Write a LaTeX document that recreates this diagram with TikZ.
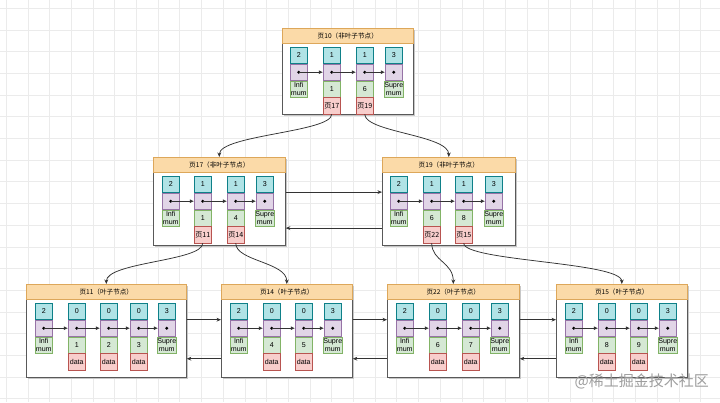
\documentclass[tikz,border=0pt]{standalone}
\usepackage{fontspec}
\setmainfont{Liberation Sans}
\newfontfamily\cjk{Noto Sans CJK SC}
\usetikzlibrary{arrows.meta,calc}
\definecolor{tealF}{HTML}{B0E3E6}
\definecolor{tealD}{HTML}{0E8088}
\definecolor{purpF}{HTML}{E1D5E7}
\definecolor{purpD}{HTML}{9673A6}
\definecolor{grnF}{HTML}{D5E8D4}
\definecolor{grnD}{HTML}{82B366}
\definecolor{redF}{HTML}{F8CECC}
\definecolor{redD}{HTML}{B85450}
\definecolor{headF}{HTML}{FBDAA8}
\definecolor{headD}{HTML}{DDA75A}
\definecolor{lineC}{HTML}{333333}
\definecolor{gridC}{HTML}{EBEBEB}
\tikzset{
  cellbase/.style={line width=0.5pt, minimum width=17pt, minimum height=16.3pt, inner sep=0pt,
    font=\fontsize{7.1}{7.6}\selectfont, align=center},
  tcell/.style={cellbase, fill=tealF, draw=tealD},
  pcell/.style={cellbase, fill=purpF, draw=purpD},
  gcell/.style={cellbase, fill=grnF, draw=grnD},
  rcell/.style={cellbase, fill=redF, draw=redD},
  pagebody/.style={draw=black!65, line width=0.8pt, fill=white, inner sep=0pt},
  pagehead/.style={draw=headD, fill=headF, line width=0.6pt, minimum height=15pt, inner sep=0pt,
    font=\fontsize{6.6}{7}\selectfont},
  link/.style={draw=lineC, line width=0.75pt, -{Stealth[length=4.5pt,width=3.8pt]}},
  inarrow/.style={draw=black!80, line width=0.8pt, -{Latex[length=4.2pt,width=4pt]}},
  gridline/.style={draw=gridC, line width=0.4pt},
}
\newcommand\pagebox[6]{%
  \fill[black!22] (#2+1.5,#3+1.5) rectangle ++(#4,#5);
  \node[pagebody, minimum width=#4pt, minimum height=#5pt, anchor=north west] (#1) at (#2,#3) {};
  \node[pagehead, minimum width=#4pt, anchor=north west] (#1h) at (#2,#3) {\cjk #6};
}
\newcommand\colA[5]{%
  \node[tcell, anchor=north west] (#1t) at (#2,#3) {#4};
  \node[pcell, anchor=north] (#1p) at (#1t.south) {};
  \node[gcell, anchor=north] (#1g) at (#1p.south) {#5};
  \fill[black] (#1p.center) circle (1.6pt);
}
\newcommand\colB[6]{%
  \colA{#1}{#2}{#3}{#4}{#5}%
  \node[rcell, anchor=north] (#1r) at (#1g.south) {#6};
}
\begin{document}
\begin{tikzpicture}[x=1pt,y=-1pt]
\useasboundingbox (0,0) rectangle (720,402);
\fill[white] (0,0) rectangle (720,402);
\foreach \i in {0,...,33} \draw[gridline] ({6+21.7*\i},0) -- ({6+21.7*\i},402);
\foreach \i in {0,...,18} \draw[gridline] (0,{8+21.7*\i}) -- (720,{8+21.7*\i});

% ---------- top level ----------
\pagebox{p10}{282}{28}{131}{86}{页10（非叶子节点）}
\colA{p10-1}{290}{47}{2}{Infi\\mum}
\colB{p10-2}{323}{47}{1}{1}{\cjk 页17}
\colB{p10-3}{356}{47}{1}{6}{\cjk 页19}
\colA{p10-4}{385}{47}{3}{Supre\\mum}
\draw[inarrow] (p10-1p.center) -- (p10-2p.west);
\draw[inarrow] (p10-2p.center) -- (p10-3p.west);
\draw[inarrow] (p10-3p.center) -- (p10-4p.west);

% ---------- middle level ----------
\pagebox{p17}{153}{157}{132}{88}{页17（非叶子节点）}
\colA{p17-1}{162}{176}{2}{Infi\\mum}
\colB{p17-2}{194}{176}{1}{1}{\cjk 页11}
\colB{p17-3}{227}{176}{1}{4}{\cjk 页14}
\colA{p17-4}{256}{176}{3}{Supre\\mum}
\draw[inarrow] (p17-1p.center) -- (p17-2p.west);
\draw[inarrow] (p17-2p.center) -- (p17-3p.west);
\draw[inarrow] (p17-3p.center) -- (p17-4p.west);

\pagebox{p19}{382}{157}{133}{88}{页19（非叶子节点）}
\colA{p19-1}{390}{176}{2}{Infi\\mum}
\colB{p19-2}{423}{176}{1}{6}{\cjk 页22}
\colB{p19-3}{455}{176}{1}{8}{\cjk 页15}
\colA{p19-4}{485}{176}{3}{Supre\\mum}
\draw[inarrow] (p19-1p.center) -- (p19-2p.west);
\draw[inarrow] (p19-2p.center) -- (p19-3p.west);
\draw[inarrow] (p19-3p.center) -- (p19-4p.west);

% ---------- bottom level ----------
\pagebox{p11}{26}{284}{160}{93}{页11（叶子节点）}
\colA{p11-1}{35}{303}{2}{Infi\\mum}
\colB{p11-2}{68}{303}{0}{1}{data}
\colB{p11-3}{100}{303}{0}{2}{data}
\colB{p11-4}{130}{303}{0}{3}{data}
\colA{p11-5}{158}{303}{3}{Supre\\mum}
\draw[inarrow] (p11-1p.center) -- (p11-2p.west);
\draw[inarrow] (p11-2p.center) -- (p11-3p.west);
\draw[inarrow] (p11-3p.center) -- (p11-4p.west);
\draw[inarrow] (p11-4p.center) -- (p11-5p.west);

\pagebox{p14}{221}{284}{131}{93}{页14（叶子节点）}
\colA{p14-1}{230}{303}{2}{Infi\\mum}
\colB{p14-2}{263}{303}{0}{4}{data}
\colB{p14-3}{295}{303}{0}{5}{data}
\colA{p14-4}{324}{303}{3}{Supre\\mum}
\draw[inarrow] (p14-1p.center) -- (p14-2p.west);
\draw[inarrow] (p14-2p.center) -- (p14-3p.west);
\draw[inarrow] (p14-3p.center) -- (p14-4p.west);

\pagebox{p22}{387}{284}{132}{93}{页22（叶子节点）}
\colA{p22-1}{396}{303}{2}{Infi\\mum}
\colB{p22-2}{429}{303}{0}{6}{data}
\colB{p22-3}{462}{303}{0}{7}{data}
\colA{p22-4}{491}{303}{3}{Supre\\mum}
\draw[inarrow] (p22-1p.center) -- (p22-2p.west);
\draw[inarrow] (p22-2p.center) -- (p22-3p.west);
\draw[inarrow] (p22-3p.center) -- (p22-4p.west);

\pagebox{p15}{556}{284}{131}{93}{页15（叶子节点）}
\colA{p15-1}{565}{303}{2}{Infi\\mum}
\colB{p15-2}{598}{303}{0}{8}{data}
\colB{p15-3}{630}{303}{0}{9}{data}
\colA{p15-4}{659}{303}{3}{Supre\\mum}
\draw[inarrow] (p15-1p.center) -- (p15-2p.west);
\draw[inarrow] (p15-2p.center) -- (p15-3p.west);
\draw[inarrow] (p15-3p.center) -- (p15-4p.west);

% ---------- parent -> child links ----------
\draw[link] (p10-2r.south) .. controls +(0,18) and +(0,-22) .. (p17h.north);
\draw[link] (p10-3r.south) .. controls +(0,18) and +(0,-22) .. (p19h.north);
\draw[link] (p17-2r.south) .. controls +(0,18) and +(0,-22) .. (p11h.north);
\draw[link] (p17-3r.south) .. controls +(0,18) and +(0,-22) .. (p14h.north);
\draw[link] (p19-2r.south) .. controls +(0,18) and +(0,-22) .. (p22h.north);
\draw[link] (p19-3r.south) .. controls +(0,18) and +(0,-22) .. (p15h.north);

% ---------- sibling links ----------
\draw[link] ([yshift=9.3pt]p17.east) -- ([yshift=9.3pt]p19.west);
\draw[link] ([yshift=-26.7pt]p19.west) -- ([yshift=-26.7pt]p17.east);
\draw[link] ([yshift=11.2pt]p11.east) -- ([yshift=11.2pt]p14.west);
\draw[link] ([yshift=-27.8pt]p14.west) -- ([yshift=-27.8pt]p11.east);
\draw[link] ([yshift=11.2pt]p14.east) -- ([yshift=11.2pt]p22.west);
\draw[link] ([yshift=-27.8pt]p22.west) -- ([yshift=-27.8pt]p14.east);
\draw[link] ([yshift=11.2pt]p22.east) -- ([yshift=11.2pt]p15.west);
\draw[link] ([yshift=-27.8pt]p15.west) -- ([yshift=-27.8pt]p22.east);

% ---------- watermark ----------
\node[font=\cjk\fontsize{15}{15}\selectfont, text=black!38, anchor=east, inner sep=0pt] (wm) at (709,381) {@稀土掘金技术社区};
\end{tikzpicture}
\end{document}
